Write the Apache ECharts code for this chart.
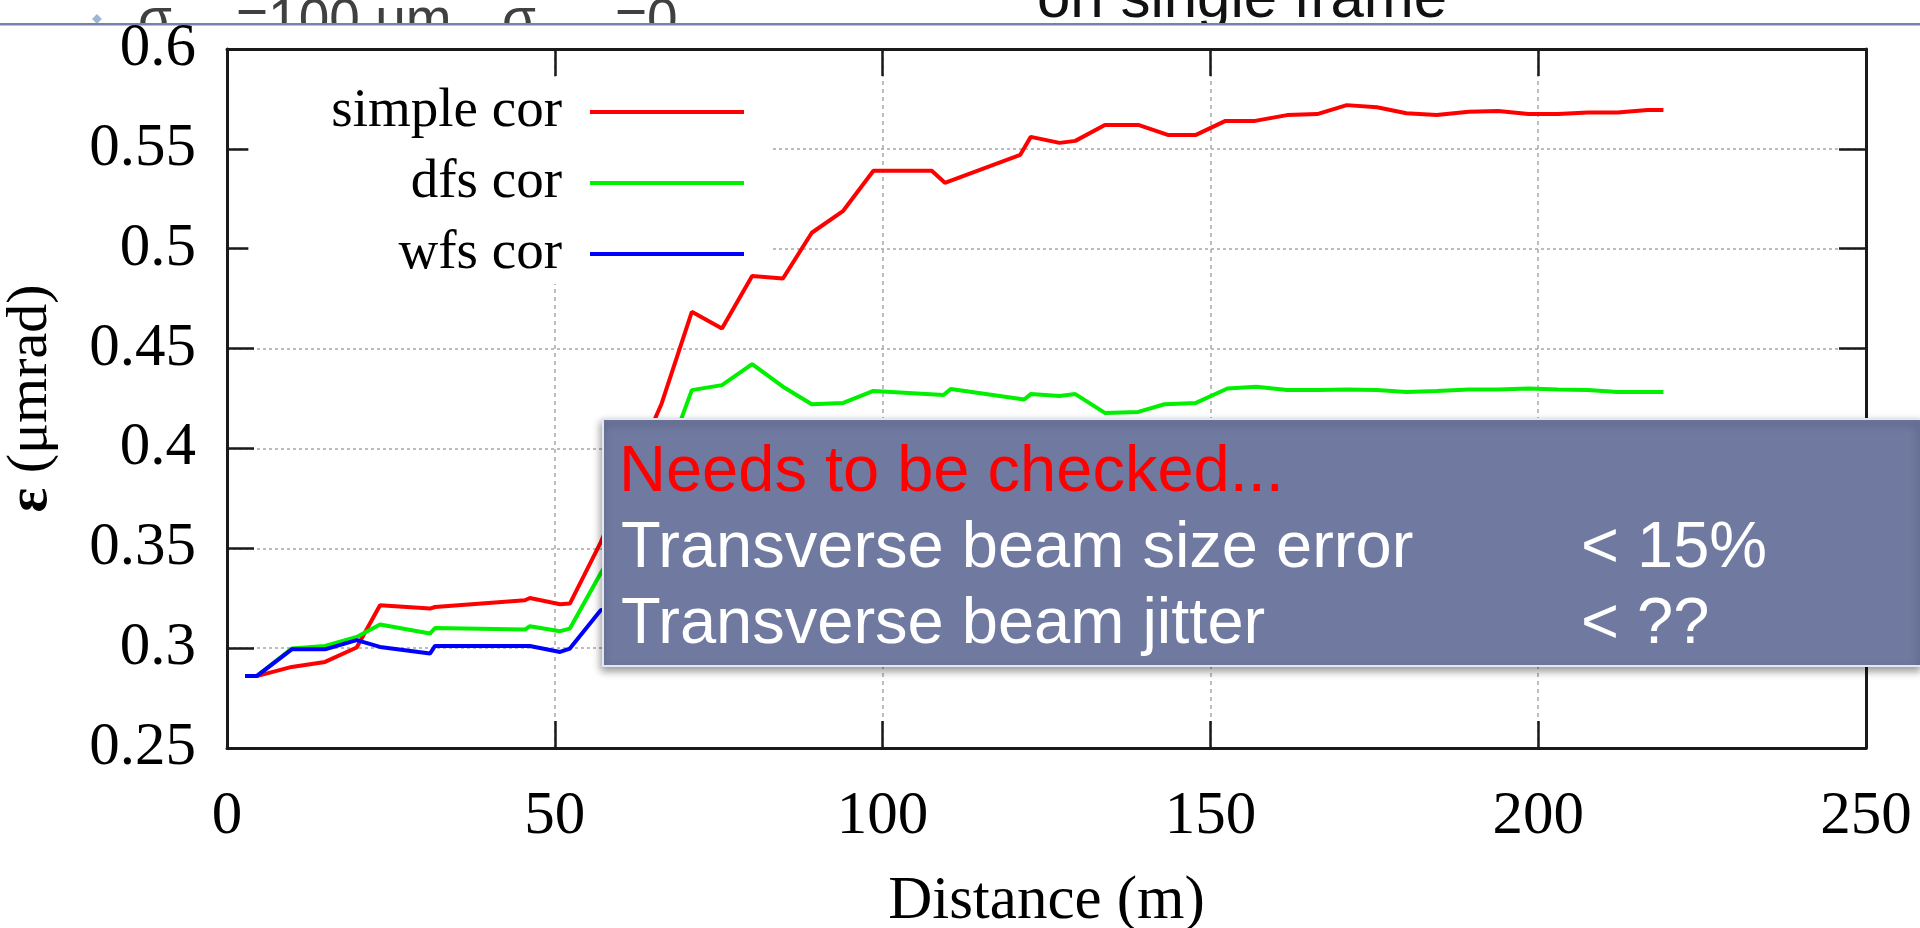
<!DOCTYPE html>
<html>
<head>
<meta charset="utf-8">
<script src="https://cdn.jsdelivr.net/npm/echarts@6/dist/echarts.min.js"></script>
<style>
html, body { margin: 0; padding: 0; background: #ffffff; }
#chart { width: 1920px; height: 928px; }
</style>
</head>
<body>
<div id="chart"></div>
<script>
// Emittance along the line for three correction schemes
const seriesNames = ['simple cor', 'dfs cor', 'wfs cor'];

const simpleDist = [2.75, 4.53, 9.87, 14.95, 19.78, 23.34, 30.96, 31.73, 45.45, 46.2,
  50.8, 52.3, 57.0, 66.3, 70.9, 75.5, 80.1, 84.8, 89.2, 94.0,
  98.6, 107.5, 109.5, 121.0, 122.6, 127.0, 129.4, 133.9, 139.0, 143.5,
  147.8, 152.3, 156.8, 161.7, 166.3, 170.8, 175.4, 179.9, 184.5, 189.4,
  193.9, 198.5, 203.0, 207.6, 212.1, 216.7, 219.1];
const simpleEmit = [0.286, 0.286, 0.2906, 0.2931, 0.3003, 0.3215, 0.3198, 0.3206, 0.324, 0.3251,
  0.322, 0.3223, 0.353, 0.4225, 0.4684, 0.460, 0.4863, 0.4851, 0.508, 0.519,
  0.539, 0.539, 0.533, 0.547, 0.556, 0.553, 0.554, 0.562, 0.562, 0.557,
  0.557, 0.564, 0.564, 0.5669, 0.5674, 0.5719, 0.5708, 0.5678, 0.5669, 0.5686,
  0.569, 0.5674, 0.5674, 0.5682, 0.5682, 0.5694, 0.5694];

const dfsDist = [2.75, 4.53, 9.87, 14.95, 19.78, 23.34, 30.96, 31.73, 45.45, 46.2,
  50.8, 52.3, 57.0, 66.3, 70.9, 75.5, 80.1, 84.8, 89.2, 94.0,
  98.6, 109.3, 110.4, 121.6, 122.6, 127.0, 129.4, 133.9, 139.0, 143.0,
  147.8, 152.6, 157.0, 161.7, 166.3, 170.8, 175.4, 179.9, 184.5, 189.4,
  193.9, 198.5, 203.0, 207.6, 212.1, 216.7, 219.1];
const dfsEmit = [0.286, 0.286, 0.2998, 0.3011, 0.3056, 0.3118, 0.3073, 0.3101, 0.3093, 0.311,
  0.3085, 0.3098, 0.3375, 0.388, 0.4292, 0.4317, 0.4422, 0.4309, 0.4221, 0.4228,
  0.4288, 0.4267, 0.4298, 0.4245, 0.4272, 0.4262, 0.4272, 0.4178, 0.4183, 0.4221,
  0.4228, 0.43, 0.4309, 0.4292, 0.4292, 0.4295, 0.4292, 0.4283, 0.4287, 0.4295,
  0.4295, 0.43, 0.4295, 0.4292, 0.4283, 0.4283, 0.4283];

const wfsDist = [2.75, 4.53, 9.87, 14.95, 19.78, 23.34, 30.96, 31.73, 46.2, 50.8, 52.3, 57.0, 61.6];
const wfsEmit = [0.286, 0.286, 0.2994, 0.2994, 0.304, 0.3006, 0.2973, 0.3011, 0.3011, 0.2981, 0.2998, 0.319, 0.322];

const headerParts = ['σ', '=100 um', 'σ', '=0'];
const headerTitle = 'on single frame';
const noteTitle = 'Needs to be checked...';
const noteItems = ['Transverse beam size error', 'Transverse beam jitter'];
const noteLimits = ['< 15%', '< ??'];

const SERIF = "'Liberation Serif', 'Times New Roman', serif";
const SANS = "'Liberation Sans', Arial, sans-serif";
const INK = '#1a1a1a';

function pairs(xs, ys) { return xs.map((x, i) => [x, ys[i]]); }

function frameLine() { return { show: true, onZero: false, lineStyle: { color: INK, width: 3 } }; }
function frameTick() { return { show: true, inside: true, length: 27, lineStyle: { color: INK, width: 2.5 } }; }

const chart = echarts.init(document.getElementById('chart'), null, { renderer: 'canvas' });

const headerX = [138, 236, 502, 615];

const option = {
  backgroundColor: '#ffffff',
  animation: false,
  grid: { left: 227, right: 54, top: 49, bottom: 180, containLabel: false, outerBoundsMode: 'none' },
  legend: {
    orient: 'vertical',
    right: 1148,
    top: 77,
    padding: [5, 28, 0, 83],
    backgroundColor: '#ffffff',
    icon: 'rect',
    itemWidth: 154,
    itemHeight: 4,
    itemGap: 11,
    align: 'right',
    selectedMode: false,
    data: seriesNames,
    formatter: name => '{n|' + name + '}',
    textStyle: {
      fontFamily: SERIF, fontSize: 55, color: '#000', lineHeight: 60,
      rich: { n: { width: 224, height: 60, align: 'right', fontFamily: SERIF, fontSize: 55, lineHeight: 60, padding: [0, 23, 0, 0], color: '#000' } }
    },
    z: 1
  },
  xAxis: [
    {
      type: 'value', min: 0, max: 250, interval: 50, position: 'bottom',
      axisLine: frameLine(), axisTick: frameTick(),
      axisLabel: { fontFamily: SERIF, fontSize: 61, color: '#000', margin: 38 },
      splitLine: { show: true, lineStyle: { color: '#a8a8a8', type: [4, 4], width: 1.5 } },
      name: 'Distance (m)', nameLocation: 'middle', nameGap: 123,
      nameTextStyle: { fontFamily: SERIF, fontSize: 61, color: '#000' }
    },
    {
      type: 'value', min: 0, max: 250, interval: 50, position: 'top',
      axisLine: frameLine(), axisTick: frameTick(),
      axisLabel: { show: false }, splitLine: { show: false }
    }
  ],
  yAxis: [
    {
      type: 'value', min: 0.25, max: 0.6, interval: 0.05, position: 'left',
      axisLine: frameLine(), axisTick: frameTick(),
      axisLabel: { fontFamily: SERIF, fontSize: 61, color: '#000', margin: 31 },
      splitLine: { show: true, lineStyle: { color: '#a8a8a8', type: [3, 3], width: 1.5 } },
      name: '{e|ε} (μmrad)', nameLocation: 'middle', nameRotate: 90, nameGap: 167,
      nameTextStyle: { fontFamily: SERIF, fontSize: 58, color: '#000',
        rich: { e: { fontFamily: SERIF, fontSize: 58, fontWeight: 'bold', color: '#000' } } }
    },
    {
      type: 'value', min: 0.25, max: 0.6, interval: 0.05, position: 'right',
      axisLine: frameLine(), axisTick: frameTick(),
      axisLabel: { show: false }, splitLine: { show: false }
    }
  ],
  series: [
    { name: seriesNames[0], type: 'line', data: pairs(simpleDist, simpleEmit), symbol: 'none',
      lineStyle: { color: '#ff0000', width: 4 }, itemStyle: { color: '#ff0000' }, z: 3 },
    { name: seriesNames[1], type: 'line', data: pairs(dfsDist, dfsEmit), symbol: 'none',
      lineStyle: { color: '#00f000', width: 4 }, itemStyle: { color: '#00f000' }, z: 3 },
    { name: seriesNames[2], type: 'line', data: pairs(wfsDist, wfsEmit), symbol: 'none',
      lineStyle: { color: '#0000ff', width: 4 }, itemStyle: { color: '#0000ff' }, z: 3 }
  ],
  graphic: [
    // slide header text, partly hidden under the plot panel
    ...headerParts.map((t, i) => ({
      type: 'text', left: headerX[i], top: -6, z: -20, silent: true,
      style: { text: t, fontFamily: SANS, fontSize: 55, fill: '#404040' }
    })),
    { type: 'rect', left: 92, top: 14, z: -20, silent: true, rotation: Math.PI / 4,
      shape: { x: 0, y: 0, width: 7, height: 7 }, style: { fill: '#9fb6d2' } },
    { type: 'text', left: 1037, top: -30, z: -20, silent: true,
      style: { text: headerTitle, fontFamily: SANS, fontSize: 60, fill: '#111' } },
    // plot panel background
    { type: 'rect', left: 0, top: 25, z: -10, silent: true,
      shape: { width: 1920, height: 903 }, style: { fill: '#ffffff' } },
    // header rule
    { type: 'rect', left: 0, top: 23, z: -5, silent: true,
      shape: { width: 1920, height: 2.5 }, style: { fill: '#7484aa' } },
    // note panel
    { type: 'group', left: 602, top: 418, z: 50, children: [
      { type: 'rect', shape: { x: 0, y: 0, width: 1318, height: 247 }, z: 50,
        style: { fill: '#707aa0', stroke: '#e4e7f0', lineWidth: 2,
          shadowBlur: 8, shadowOffsetY: 4, shadowOffsetX: -1, shadowColor: 'rgba(0,0,0,0.4)' } },
      { type: 'text', x: 16, y: 54, z: 51,
        style: { text: noteTitle, fontFamily: SANS, fontSize: 65, fill: '#ff0000', verticalAlign: 'middle' } },
      { type: 'text', x: 18, y: 130, z: 51,
        style: { text: noteItems[0], fontFamily: SANS, fontSize: 65, fill: '#ffffff', verticalAlign: 'middle' } },
      { type: 'text', x: 18, y: 206, z: 51,
        style: { text: noteItems[1], fontFamily: SANS, fontSize: 65, fill: '#ffffff', verticalAlign: 'middle' } },
      { type: 'text', x: 978, y: 130, z: 51,
        style: { text: noteLimits[0], fontFamily: SANS, fontSize: 65, fill: '#ffffff', verticalAlign: 'middle' } },
      { type: 'text', x: 978, y: 206, z: 51,
        style: { text: noteLimits[1], fontFamily: SANS, fontSize: 65, fill: '#ffffff', verticalAlign: 'middle' } }
    ] }
  ]
};

chart.setOption(option);
</script>
</body>
</html>
